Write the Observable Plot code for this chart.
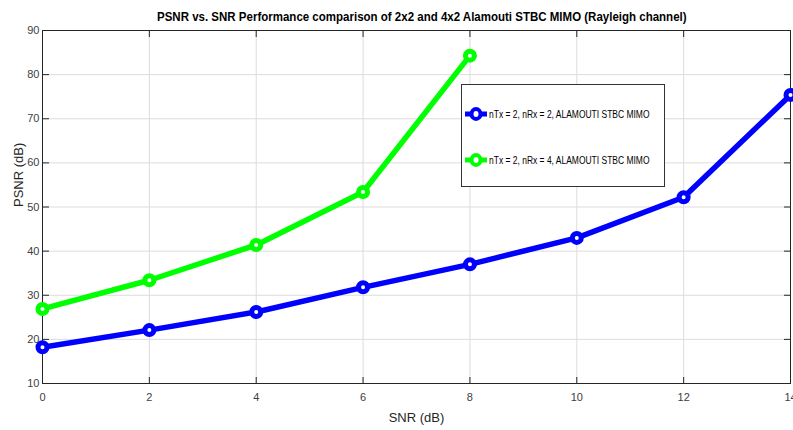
<!DOCTYPE html>
<html><head><meta charset="utf-8">
<script src="https://cdn.jsdelivr.net/npm/d3@7"></script>
<script src="https://cdn.jsdelivr.net/npm/@observablehq/plot@0.6"></script>
<style>
body{margin:0;background:#fff;font-family:"Liberation Sans",Arial,sans-serif;}
#wrap{position:relative;width:793px;height:430px;overflow:hidden;}
#title{height:24px;position:relative;}
#title span{position:absolute;left:157px;top:9px;white-space:nowrap;font-weight:bold;font-size:13px;color:#000;transform:scaleX(0.885);transform-origin:left center;}
#legend{position:absolute;left:461px;top:84px;width:202px;height:101px;border:1px solid #333;background:#fff;font-size:11px;color:#000;}
.row{position:absolute;left:3px;display:flex;align-items:center;}
.row span{margin-left:2px;white-space:nowrap;display:inline-block;transform:scaleX(0.77);transform-origin:left center;}
</style></head>
<body><div id="wrap"><div id="title"><span>PSNR vs. SNR Performance comparison of 2x2 and 4x2 Alamouti STBC MIMO (Rayleigh channel)</span></div>
<div id="chart"></div>
<div id="legend"></div></div>
<script>
const snr = [0, 2, 4, 6, 8, 10, 12, 14];
const psnr2x2 = [18.2, 22.1, 26.2, 31.8, 37.0, 43.0, 52.2, 75.4];
const snr4 = [0, 2, 4, 6, 8];
const psnr4x2 = [26.9, 33.4, 41.4, 53.4, 84.3];
const seriesNames = ["nTx = 2, nRx = 2, ALAMOUTI STBC MIMO", "nTx = 2, nRx = 4, ALAMOUTI STBC MIMO"];
const colors = ["#0000ff", "#00ff00"];
const xTicks = [0, 2, 4, 6, 8, 10, 12, 14];
const yTicks = [10, 20, 30, 40, 50, 60, 70, 80, 90];

const d1 = snr.map((x, i) => ({x, y: psnr2x2[i]}));
const d2 = snr4.map((x, i) => ({x, y: psnr4x2[i]}));
const font = "Liberation Sans, Arial, sans-serif";

const chart = Plot.plot({
  width: 793, height: 406,
  marginLeft: 42, marginRight: 3, marginTop: 6, marginBottom: 47,
  style: {fontFamily: font, fontSize: "11px", color: "#404040", background: "#fff"},
  x: {domain: [0, 14]},
  y: {domain: [10, 90]},
  marks: [
    Plot.gridX(xTicks, {stroke: "#dcdcdc", strokeOpacity: 1}),
    Plot.gridY(yTicks, {stroke: "#dcdcdc", strokeOpacity: 1}),
    Plot.axisX(xTicks, {anchor: "bottom", tickSize: 0, tickPadding: 10, fontSize: 11, fill: "#404040", label: null}),
    Plot.axisY(yTicks, {anchor: "left", tickSize: 0, tickPadding: 3, fontSize: 11, fill: "#404040", label: null}),
    Plot.axisX(xTicks, {anchor: "bottom", tickSize: 6, dy: -6, text: null, label: null, stroke: "#262626"}),
    Plot.axisX(xTicks, {anchor: "top", tickSize: 6, dy: 6, text: null, label: null, stroke: "#262626"}),
    Plot.axisY(yTicks, {anchor: "left", tickSize: 7, dx: 7, text: null, label: null, stroke: "#262626"}),
    Plot.axisY(yTicks, {anchor: "right", tickSize: 7, dx: -7, text: null, label: null, stroke: "#262626"}),
    Plot.frame({stroke: "#262626", strokeWidth: 1}),
    Plot.text(["SNR (dB)"], {frameAnchor: "bottom", dy: 38, fontSize: 13, fill: "#262626"}),
    Plot.text(["PSNR (dB)"], {frameAnchor: "left", dx: -24, rotate: -90, fontSize: 13, fill: "#262626"}),
    Plot.line(d1, {x: "x", y: "y", stroke: colors[0], strokeWidth: 5.5}),
    Plot.dot(d1, {x: "x", y: "y", r: 4.5, stroke: colors[0], strokeWidth: 5, fill: "#fff"}),
    Plot.line(d2, {x: "x", y: "y", stroke: colors[1], strokeWidth: 5.5}),
    Plot.dot(d2, {x: "x", y: "y", r: 4.5, stroke: colors[1], strokeWidth: 5, fill: "#fff"})
  ]
});
document.getElementById("chart").appendChild(chart);

const leg = document.getElementById("legend");
seriesNames.forEach((name, i) => {
  const row = document.createElement("div");
  row.className = "row";
  row.style.top = (i === 0 ? 21 : 67) + "px";
  row.innerHTML = `<svg width="22" height="16"><line x1="0" y1="8" x2="22" y2="8" stroke="${colors[i]}" stroke-width="5"/><ellipse cx="11" cy="8" rx="4.5" ry="5" fill="#fff" stroke="${colors[i]}" stroke-width="4"/></svg><span>${name}</span>`;
  leg.appendChild(row);
});
</script></body></html>
